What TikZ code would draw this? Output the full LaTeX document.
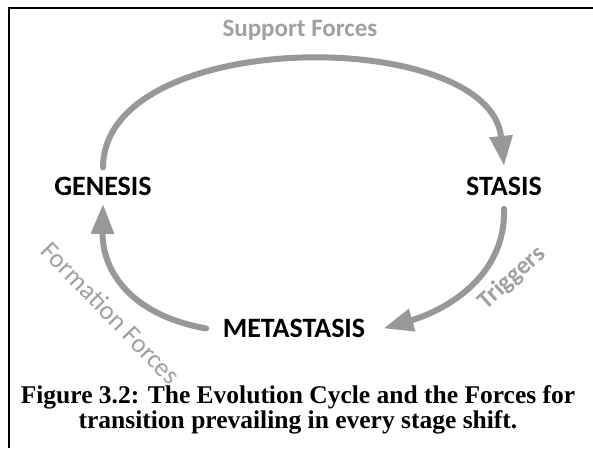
\documentclass[tikz,border=0pt]{standalone}
\usepackage{fontspec}
\setmainfont{Carlito}
\newfontfamily\captionfont{Liberation Serif}
\usetikzlibrary{arrows.meta}
\definecolor{forcegray}{RGB}{152,152,152}
\definecolor{labelgray}{RGB}{160,160,160}
\begin{document}
\begin{tikzpicture}[x=1pt,y=-1pt,
  stage/.style={font=\fontsize{28}{28}\selectfont\bfseries, text=black, inner sep=0pt, anchor=base},
  force/.style={draw=forcegray, line width=6pt, line cap=round,
    -{Triangle[length=30pt,width=22pt]}},
  forcelabel/.style={text=labelgray, inner sep=0pt, font=\fontsize{25}{25}\selectfont},
  captiontext/.style={font=\captionfont\bfseries\fontsize{25.5}{25}\selectfont, align=center, inner sep=0pt}
]
\useasboundingbox (0,0) rectangle (593,448);

% partial frame: top and left rules
\draw[line width=2pt] (8.5,448) -- (8.5,7.5) -- (593,7.5);

% the three stages
\node[stage] (genesis) at (103,195.5) {GENESIS};
\node[stage] (stasis) at (504,195.5) {STASIS};
\node[stage] (metastasis) at (294,337.5) {METASTASIS};

% forces driving each transition
\draw[force] ([yshift=9.5pt]genesis.north) .. controls (104,26) and (490,26) .. ([yshift=11pt]stasis.north);
\draw[force] ([yshift=-13pt]stasis.south) .. controls (506,280) and (440,312) .. ([xshift=18pt]metastasis.east);
\draw[force] ([xshift=-16.5pt]metastasis.west) .. controls (130,315) and (102,270) .. ([yshift=-8pt]genesis.south);

% force labels
\node[forcelabel, font=\fontsize{25}{25}\selectfont\bfseries, anchor=base] (support) at (300,36) {Support Forces};
\node[forcelabel, font=\fontsize{25}{25}\selectfont\bfseries, rotate=42] (triggers) at (512,278) {Triggers};
\node[forcelabel, font=\fontsize{26.5}{26.5}\selectfont, rotate=-46] (formation) at (111,313) {Formation Forces};

% caption
\node[captiontext] (caption) at (298,410) {Figure 3.2: The Evolution Cycle and the Forces for\\transition prevailing in every stage shift.};
\end{tikzpicture}
\end{document}
